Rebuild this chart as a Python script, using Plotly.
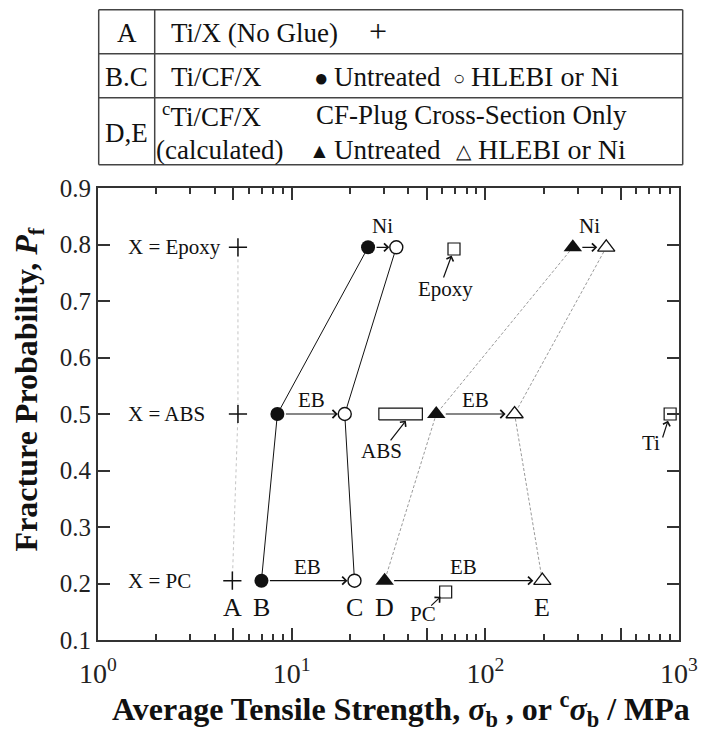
import numpy as np
import plotly.graph_objects as go

# ---------------- data ----------------
materials = ["Epoxy", "ABS", "PC"]
pf = [0.795, 0.500, 0.205]                 # fracture probability rows
a_noglue = [5.28, 5.28, 4.94]              # A: Ti/X (no glue)
b_untreated = [24.8, 8.44, 6.98]           # B: Ti/CF/X untreated
c_treated = [34.7, 18.8, 21.1]             # C: Ti/CF/X HLEBI or Ni
d_untreated_calc = [283.0, 55.8, 30.2]     # D: calculated, untreated
e_treated_calc = [421.0, 141.6, 196.9]     # E: calculated, HLEBI or Ni
treatment = ["Ni", "EB", "EB"]
group_letters = ["A", "B", "C", "D", "E"]

bulk_names = ["Epoxy", "PC", "Ti"]
bulk_strength = [68.9, 62.4, 900.0]
bulk_pf = [0.792, 0.185, 0.500]
abs_bulk_range = [28.2, 47.3]
abs_bulk_pf = 0.500

x_tickvals = [1, 10, 100, 1000]
x_ticktext = ["10<sup>0</sup>", "10<sup>1</sup>", "10<sup>2</sup>", "10<sup>3</sup>"]
x_midvals = [5, 50, 500]
x_minorvals = [m * d for d in (1, 10, 100) for m in (2, 3, 4, 6, 7, 8, 9)]
y_tickvals = [0.1, 0.2, 0.3, 0.4, 0.5, 0.6, 0.7, 0.8, 0.9]

x_title = "Average Tensile Strength, <i>σ</i><sub>b</sub> , or <sup>c</sup><i>σ</i><sub>b</sub> / MPa"
y_title = "Fracture Probability, <i>P</i><sub>f</sub>"

# ---------------- style ----------------
SERIF = "Liberation Serif"
INK = "#111111"
AXC = "#333333"

fig = go.Figure()

# connecting lines
fig.add_trace(go.Scatter(x=a_noglue, y=pf, mode="lines",
                         line=dict(color="#c4c4c4", width=1, dash="dot")))
for xs in (b_untreated, c_treated):
    fig.add_trace(go.Scatter(x=xs, y=pf, mode="lines",
                             line=dict(color=INK, width=1)))
for xs in (d_untreated_calc, e_treated_calc):
    fig.add_trace(go.Scatter(x=xs, y=pf, mode="lines",
                             line=dict(color="#9a9a9a", width=1, dash="3px,2px")))

# ABS bulk range box
h = 0.0105
bx = [abs_bulk_range[0], abs_bulk_range[1], abs_bulk_range[1], abs_bulk_range[0], abs_bulk_range[0]]
by = [abs_bulk_pf - h, abs_bulk_pf - h, abs_bulk_pf + h, abs_bulk_pf + h, abs_bulk_pf - h]
fig.add_trace(go.Scatter(x=bx, y=by, mode="lines", fill="toself", fillcolor="white",
                         line=dict(color=INK, width=1.2)))

# markers
fig.add_trace(go.Scatter(x=a_noglue, y=pf, mode="markers",
                         marker=dict(symbol="cross-thin", size=13, line=dict(color=INK, width=1.5))))
fig.add_trace(go.Scatter(x=b_untreated, y=pf, mode="markers",
                         marker=dict(symbol="circle", size=14, color=INK, line=dict(width=0))))
fig.add_trace(go.Scatter(x=c_treated, y=pf, mode="markers",
                         marker=dict(symbol="circle", size=13, color="white", line=dict(color=INK, width=1.4))))
fig.add_trace(go.Scatter(x=d_untreated_calc, y=pf, mode="markers",
                         marker=dict(symbol="triangle-up", size=16, color=INK, line=dict(width=0))))
fig.add_trace(go.Scatter(x=e_treated_calc, y=pf, mode="markers",
                         marker=dict(symbol="triangle-up", size=15, color="white", line=dict(color=INK, width=1.3))))
fig.add_trace(go.Scatter(x=bulk_strength, y=bulk_pf, mode="markers", cliponaxis=False,
                         marker=dict(symbol="square", size=12, color="white", line=dict(color=INK, width=1.2))))

ann = []
lg = np.log10

# treatment arrows + labels
for i in range(len(materials)):
    for x0, x1, so0, so1 in ((b_untreated[i], c_treated[i], 7, 7),
                             (d_untreated_calc[i], e_treated_calc[i], 8, 9)):
        ann.append(dict(x=lg(x1), y=pf[i], ax=lg(x0), ay=pf[i], axref="x", ayref="y",
                        xref="x", yref="y", text="", showarrow=True, arrowhead=4,
                        arrowsize=1.3, arrowwidth=1.2, arrowcolor=INK,
                        standoff=so1, startstandoff=so0))
        ann.append(dict(x=(lg(x0) + lg(x1)) / 2, y=pf[i], xref="x", yref="y",
                        text=treatment[i], showarrow=False,
                        yshift=21 if treatment[i] == "Ni" else 14,
                        font=dict(family=SERIF, size=21, color=INK)))
    ann.append(dict(x=0.0475, y=pf[i], xref="paper", yref="y", xanchor="left",
                    text="X = " + materials[i], showarrow=False,
                    font=dict(family=SERIF, size=21, color=INK)))

# group letters under PC row
pc = len(materials) - 1
for letter, xs in zip(group_letters, (a_noglue, b_untreated, c_treated,
                                      d_untreated_calc, e_treated_calc)):
    ann.append(dict(x=lg(xs[pc]), y=pf[pc], xref="x", yref="y", text=letter,
                    showarrow=False, yshift=-27,
                    font=dict(family=SERIF, size=26, color=INK)))

# bulk material labels with arrows
bulk_label_off = {"Epoxy": (-11, 30, -9, 40), "PC": (-16, 15, -23, 22), "Ti": (-8, 25, -19, 29)}
for name, xv, yv in zip(bulk_names, bulk_strength, bulk_pf):
    axp, ayp, tx, ty = bulk_label_off[name]
    ann.append(dict(x=lg(xv), y=yv, xref="x", yref="y", ax=axp, ay=ayp, text="",
                    showarrow=True, arrowhead=4, arrowsize=1.2, arrowwidth=1.2,
                    arrowcolor=INK, standoff=7))
    ann.append(dict(x=lg(xv), y=yv, xref="x", yref="y", text=name, showarrow=False,
                    xshift=tx, yshift=-ty, font=dict(family=SERIF, size=21, color=INK)))
abs_mid = (lg(abs_bulk_range[0]) + lg(abs_bulk_range[1])) / 2
ann.append(dict(x=abs_mid + 0.03, y=abs_bulk_pf - h, xref="x", yref="y", ax=-17, ay=22, text="",
                showarrow=True, arrowhead=4, arrowsize=1.2, arrowwidth=1.2,
                arrowcolor=INK, standoff=1))
ann.append(dict(x=abs_mid - 0.1, y=abs_bulk_pf, xref="x", yref="y", text="ABS", showarrow=False,
                yshift=-37, font=dict(family=SERIF, size=21, color=INK)))

# ---------------- legend table + titles (paper coordinates) ----------------
L, T, W, H = 98.3, 188.3, 581.0, 452.0
def px(xp):
    return (xp - L) / W
def py(yp):
    return (T + H - yp) / H

shapes = []
tab_l, tab_r, tab_c = 99, 683, 155
tab_rows = [10, 54, 98, 165]
for yy in tab_rows:
    shapes.append(dict(type="line", xref="paper", yref="paper", x0=px(tab_l), x1=px(tab_r),
                       y0=py(yy), y1=py(yy), line=dict(color="#444", width=1.5)))
for xx in (tab_l, tab_c, tab_r):
    shapes.append(dict(type="line", xref="paper", yref="paper", x0=px(xx), x1=px(xx),
                       y0=py(tab_rows[0]), y1=py(tab_rows[-1]), line=dict(color="#444", width=1.5)))

TF = dict(family=SERIF, size=27, color=INK)
def t(text, x, y, anchor="left", size=None):
    f = dict(TF)
    if size:
        f["size"] = size
    ann.append(dict(x=px(x), y=py(y), xref="paper", yref="paper", text=text, showarrow=False,
                    xanchor=anchor, yanchor="middle", font=f))

t("A", 127, 33, "center")
t("Ti/X (No Glue)", 169, 33)
t("+", 378, 31, "center", 32)
t("B.C", 127, 77, "center")
t("Ti/CF/X", 169, 77)
t("●", 322, 78, "center", 24)
t("Untreated", 332, 77)
t("○", 459, 78, "center", 20)
t("HLEBI or Ni", 469, 77, size=28)
t("D,E", 127, 133, "center")
t("<sup>c</sup>Ti/CF/X", 160, 115)
t("(calculated)", 154, 150)
t("CF-Plug Cross-Section Only", 314, 115)
t("▲", 320, 151, "center", 21)
t("Untreated", 332, 150)
t("△", 464, 151, "center", 20)
t("HLEBI or Ni", 476, 150, size=28)

# axis titles
ann.append(dict(x=px(401), y=py(710), xref="paper", yref="paper", text=x_title, showarrow=False,
                xanchor="center", yanchor="middle",
                font=dict(family=SERIF, size=32, color=INK, weight="bold")))
ann.append(dict(x=px(29), y=py(390), xref="paper", yref="paper", text=y_title, showarrow=False,
                textangle=-90, xanchor="center", yanchor="middle",
                font=dict(family=SERIF, size=32, color=INK, weight="bold")))

fig.update_layout(
    width=704, height=729,
    margin=dict(l=98, r=25, t=188, b=89),
    paper_bgcolor="white", plot_bgcolor="white",
    showlegend=False,
    annotations=ann, shapes=shapes,
    font=dict(family=SERIF, color=INK),
    xaxis=dict(type="log", range=[0, 3], showgrid=False, zeroline=False,
               showline=True, linecolor=AXC, linewidth=2, mirror="ticks",
               ticks="inside", ticklen=12, tickwidth=1.5, tickcolor=AXC,
               tickmode="array", tickvals=x_tickvals + x_midvals,
               ticktext=x_ticktext + [""] * len(x_midvals),
               tickfont=dict(family=SERIF, size=28, color="#222"),
               ticklabelstandoff=7,
               minor=dict(tickmode="array", tickvals=x_minorvals, ticks="inside",
                          ticklen=6, tickwidth=1.5, tickcolor=AXC),
               automargin=False),
    yaxis=dict(range=[0.1, 0.9], showgrid=False, zeroline=False,
               showline=True, linecolor=AXC, linewidth=2, mirror="ticks",
               ticks="inside", ticklen=12, tickwidth=1.5, tickcolor=AXC,
               tickmode="array", tickvals=y_tickvals, tickformat=".1f",
               tickfont=dict(family=SERIF, size=25, color="#222"),
               automargin=False),
)

fig.write_html("out.html")
